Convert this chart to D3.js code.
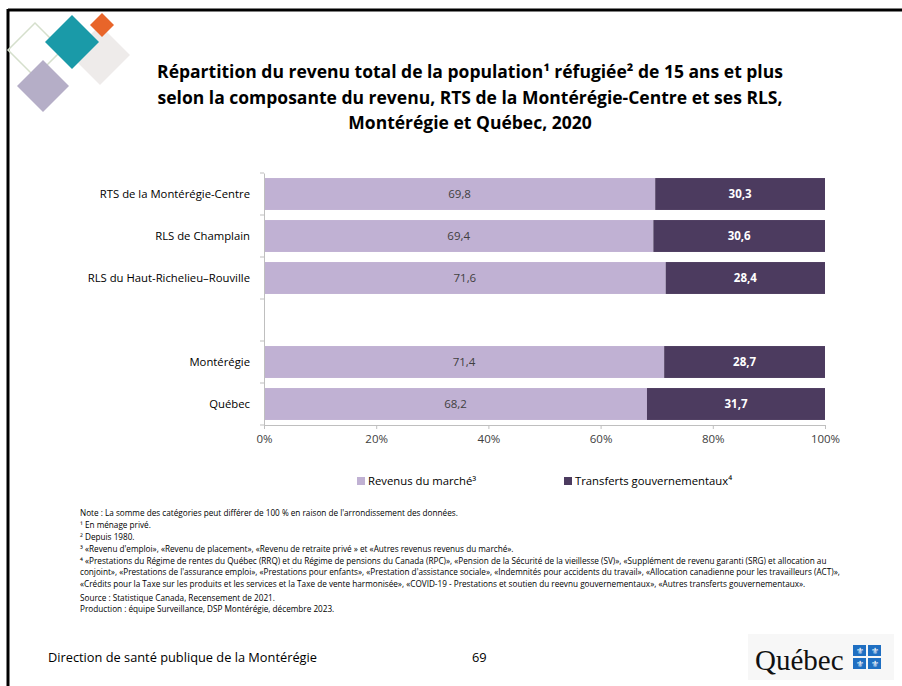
<!DOCTYPE html>
<html><head><meta charset="utf-8">
<script src="https://cdn.jsdelivr.net/npm/d3@7/dist/d3.min.js"></script>
<style>
body{margin:0;background:#fff;}
svg{display:block;}
</style></head>
<body>
<svg id="c" width="902" height="686"></svg>
<script>
const categories = ["RTS de la Montérégie-Centre","RLS de Champlain","RLS du Haut-Richelieu–Rouville","","Montérégie","Québec"];
const marketValues = [69.8, 69.4, 71.6, null, 71.4, 68.2];
const transferValues = [30.3, 30.6, 28.4, null, 28.7, 31.7];
const seriesNames = ["Revenus du marché³","Transferts gouvernementaux⁴"];
const xTicks = [0, 20, 40, 60, 80, 100];
const titleLines = [
  "Répartition du revenu total de la population¹ réfugiée² de 15 ans et plus",
  "selon la composante du revenu, RTS de la Montérégie-Centre et ses RLS,",
  "Montérégie et Québec, 2020"
];
const notes = [
  "Note : La somme des catégories peut différer de 100 % en raison de l'arrondissement des données.",
  "¹ En ménage privé.",
  "² Depuis 1980.",
  "³ «Revenu d'emploi», «Revenu de placement», «Revenu de retraite privé » et  «Autres revenus revenus du marché».",
  "⁴ «Prestations du Régime de rentes du Québec (RRQ) et du Régime de pensions du Canada (RPC)», «Pension de la Sécurité de la vieillesse (SV)», «Supplément de revenu garanti (SRG) et allocation au",
  "conjoint», «Prestations de l'assurance emploi», «Prestations pour enfants», «Prestation d'assistance sociale», «Indemnités pour accidents du travail», «Allocation canadienne pour les travailleurs (ACT)»,",
  "«Crédits pour la Taxe sur les produits et les services et la Taxe de vente harmonisée», «COVID-19 - Prestations et soutien du reevnu gouvernementaux», «Autres transferts gouvernementaux»."
];
const sources = [
  "Source : Statistique Canada, Recensement de 2021.",
  "Production : équipe Surveillance, DSP Montérégie, décembre 2023."
];
const colors = ["#c0b1d3", "#4c3b5f"];

const svg = d3.select("#c");
const FONT = "'Open Sans',sans-serif";

// slide frame
svg.append("line").attr("x1",8).attr("x2",902).attr("y1",10).attr("y2",10).attr("stroke","#000").attr("stroke-width",3);
svg.append("line").attr("x1",8).attr("x2",8).attr("y1",9).attr("y2",686).attr("stroke","#000").attr("stroke-width",3);

// decorative diamonds
const deco = [
  {cx:35, cy:50, r:27, fill:"none", stroke:"#d5dfcc", op:1},
  {cx:100, cy:55, r:30, fill:"#ece9e8", stroke:"none", op:0.9},
  {cx:72, cy:42, r:27, fill:"#1a9aa8", stroke:"none", op:1},
  {cx:102, cy:25, r:12, fill:"#e8652a", stroke:"none", op:1},
  {cx:43, cy:86, r:26, fill:"#b5aec7", stroke:"none", op:1}
];
deco.forEach(d=>{
  const s = d.r*Math.SQRT2;
  svg.append("rect").attr("x",-s/2).attr("y",-s/2).attr("width",s).attr("height",s)
    .attr("transform",`translate(${d.cx},${d.cy}) rotate(45)`)
    .attr("fill",d.fill).attr("stroke",d.stroke).attr("stroke-width",1.5).attr("opacity",d.op);
});

// title
svg.append("text").attr("x",470).attr("y",78).attr("text-anchor","middle")
  .attr("font-family",FONT).attr("font-weight","bold").attr("font-size",17.5).attr("fill","#000")
  .selectAll("tspan").data(titleLines).join("tspan").attr("x",470).attr("dy",(d,i)=>i?25.5:0).text(d=>d);

// chart
const margin = {left:264, right:825, top:173, bottom:425};
const x = d3.scaleLinear().domain([0,100]).range([margin.left, margin.right]);
const y = d3.scaleBand().domain(categories.map((c,i)=>i)).range([margin.top, margin.bottom]).paddingInner(0.24).paddingOuter(0.12);

const rows = categories.map((c,i)=>({i, c, m:marketValues[i], t:transferValues[i]})).filter(r=>r.m!=null);
rows.forEach(r=>{ const tot=r.m+r.t; r.x1 = r.m/tot*100; });

const g = svg.append("g");
g.selectAll("rect.m").data(rows).join("rect").attr("class","m")
  .attr("x",x(0)).attr("y",d=>y(d.i)).attr("width",d=>x(d.x1)-x(0)).attr("height",y.bandwidth()).attr("fill",colors[0]);
g.selectAll("rect.t").data(rows).join("rect").attr("class","t")
  .attr("x",d=>x(d.x1)).attr("y",d=>y(d.i)).attr("width",d=>x(100)-x(d.x1)).attr("height",y.bandwidth()).attr("fill",colors[1]);

const fmt = v => v.toFixed(1).replace(".",",");
g.selectAll("text.ml").data(rows).join("text").attr("class","ml")
  .attr("x",d=>x(d.x1/2)).attr("y",d=>y(d.i)+y.bandwidth()/2).attr("dy","0.35em").attr("text-anchor","middle")
  .attr("font-family",FONT).attr("font-size",11.5).attr("fill","#404040").text(d=>fmt(d.m));
g.selectAll("text.tl").data(rows).join("text").attr("class","tl")
  .attr("x",d=>x((d.x1+100)/2)).attr("y",d=>y(d.i)+y.bandwidth()/2).attr("dy","0.35em").attr("text-anchor","middle")
  .attr("font-family",FONT).attr("font-weight","bold").attr("font-size",11.5).attr("fill","#ffffff").text(d=>fmt(d.t));

// y axis
const yAxis = d3.axisLeft(y).tickSize(0).tickFormat(i=>categories[i]).tickPadding(14);
const ya = svg.append("g").attr("transform",`translate(${margin.left},0)`).call(yAxis);
ya.select(".domain").attr("stroke","#bfbfbf");
ya.selectAll("text").attr("font-family",FONT).attr("font-size",11.3).attr("fill","#000");
// boundary ticks
const bounds = d3.range(categories.length+1).map(k=>margin.top + k*(margin.bottom-margin.top)/categories.length);
svg.selectAll("line.yt").data(bounds).join("line").attr("class","yt")
  .attr("x1",margin.left-4).attr("x2",margin.left).attr("y1",d=>d).attr("y2",d=>d).attr("stroke","#bfbfbf");

// x axis
const xAxis = d3.axisBottom(x).tickValues(xTicks).tickFormat(d=>d+"%").tickSize(4).tickPadding(6);
const xa = svg.append("g").attr("transform",`translate(0,${margin.bottom})`).call(xAxis);
xa.select(".domain").attr("stroke","#bfbfbf");
xa.selectAll("line").attr("stroke","#bfbfbf");
xa.selectAll("text").attr("font-family",FONT).attr("font-size",11.5).attr("fill","#404040");

// legend
const legX = [357, 564];
seriesNames.forEach((n,i)=>{
  svg.append("rect").attr("x",legX[i]).attr("y",477).attr("width",8).attr("height",8).attr("fill",colors[i]);
  svg.append("text").attr("x",legX[i]+11).attr("y",485).attr("font-family",FONT).attr("font-size",11.3).attr("fill","#000").text(n);
});

// notes
const nt = svg.append("text").attr("font-family",FONT).attr("font-size",8.2).attr("fill","#000");
const noteY = [516, 528, 540, 552, 564, 575, 587];
notes.forEach((n,i)=>nt.append("tspan").attr("x",80).attr("y",noteY[i]).text(n));
const srcY = [601, 612];
sources.forEach((n,i)=>nt.append("tspan").attr("x",80).attr("y",srcY[i]).text(n));

// footer
svg.append("text").attr("x",48).attr("y",662).attr("font-family",FONT).attr("font-size",12.8).attr("fill","#000").text("Direction de santé publique de la Montérégie");
svg.append("text").attr("x",472).attr("y",662).attr("font-family",FONT).attr("font-size",12.8).attr("fill","#000").text("69");

// Québec logo
svg.append("rect").attr("x",748).attr("y",634).attr("width",146).attr("height",46).attr("fill","#f7f7f7");
svg.append("text").attr("x",755).attr("y",670).attr("font-family","'Liberation Serif',serif").attr("font-size",29).attr("fill","#111").text("Québec");
const fl = [[853,645],[868,645],[853,658],[868,658]];
fl.forEach(p=>{
  svg.append("rect").attr("x",p[0]).attr("y",p[1]).attr("width",13).attr("height",11).attr("fill","#1f6fc2");
  svg.append("text").attr("x",p[0]+6.5).attr("y",p[1]+9).attr("text-anchor","middle").attr("font-size",9).attr("fill","#fff").text("⚜");
});
</script>
</body></html>
